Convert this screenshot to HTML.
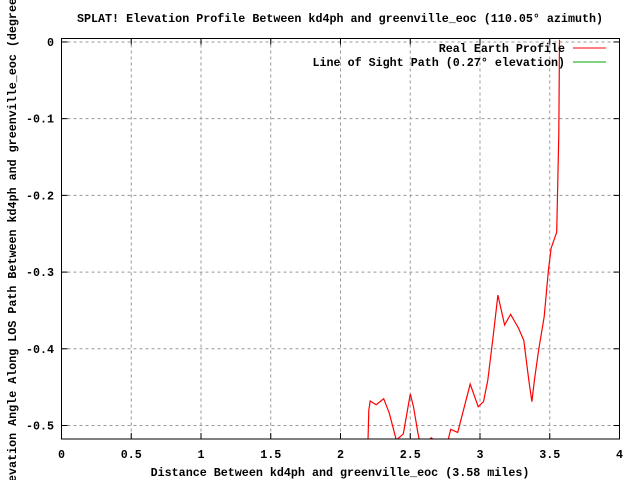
<!DOCTYPE html>
<html><head><meta charset="utf-8"><style>
body{margin:0;background:#fff}
svg{display:block;font-family:"Liberation Mono",monospace;font-weight:bold;font-size:11.7px}
</style></head><body>
<svg width="640" height="480" xmlns="http://www.w3.org/2000/svg">
<rect width="640" height="480" fill="#fff"/>
<text x="340" y="22" text-anchor="middle">SPLAT! Elevation Profile Between kd4ph and greenville_eoc (110.05° azimuth)</text>
<text x="340" y="476" text-anchor="middle">Distance Between kd4ph and greenville_eoc (3.58 miles)</text>
<text transform="translate(16,240) rotate(-90)" text-anchor="middle">Elevation Angle Along LOS Path Between kd4ph and greenville_eoc (degrees)</text>
<g id="grid"></g><g id="ticks"></g>
<g id="series"></g>
<rect x="61.5" y="38.5" width="558" height="400.5" fill="none" stroke="#000"/>
<g>
<text x="565" y="52" text-anchor="end">Real Earth Profile</text>
<line x1="573" y1="48" x2="606" y2="48" stroke="#f00"/>
<text x="565" y="66" text-anchor="end">Line of Sight Path (0.27° elevation)</text>
<line x1="573" y1="62" x2="606" y2="62" stroke="#0a0"/>
</g>
</svg>
<script>
const xTicks=[0,0.5,1,1.5,2,2.5,3,3.5,4];
const xTickLabels=["0","0.5","1","1.5","2","2.5","3","3.5","4"];
const yTicks=[0,-0.1,-0.2,-0.3,-0.4,-0.5];
const yTickLabels=["0","-0.1","-0.2","-0.3","-0.4","-0.5"];
const profileX=[2.196,2.203,2.213,2.256,2.31,2.35,2.40,2.45,2.50,2.523,2.554,2.578,2.65,2.757,2.79,2.84,2.93,2.987,3.025,3.056,3.097,3.128,3.176,3.219,3.276,3.314,3.35,3.372,3.39,3.42,3.46,3.49,3.51,3.55,3.565,3.57];
const profileY=[-0.53,-0.48,-0.468,-0.473,-0.465,-0.484,-0.519,-0.511,-0.459,-0.4755,-0.509,-0.53,-0.516,-0.53,-0.505,-0.509,-0.446,-0.4755,-0.469,-0.441,-0.38,-0.33,-0.369,-0.355,-0.373,-0.389,-0.441,-0.469,-0.441,-0.402,-0.358,-0.298,-0.269,-0.248,-0.12,0.003];
const X0=61.5,X1=619.5,Y0=439,Y1=38.5,YMIN=-0.5176,YMAX=0.0045;
const sx=v=>X0+(v/4)*(X1-X0);
const sy=v=>Y0-(v-YMIN)/(YMAX-YMIN)*(Y0-Y1);
const NS="http://www.w3.org/2000/svg";
const grid=document.getElementById('grid'),ticks=document.getElementById('ticks'),series=document.getElementById('series');
function mk(t,a,p){const e=document.createElementNS(NS,t);for(const k in a)e.setAttribute(k,a[k]);p.appendChild(e);return e;}
xTicks.forEach((v,i)=>{const x=sx(v);
 if(i>0&&i<xTicks.length-1){const g=mk('line',{x1:x,y1:Y1,x2:x,y2:Y0,stroke:'#999','stroke-dasharray':'3,3'},grid);
 
 }
 const t=mk('line',{x1:x,y1:Y0,x2:x,y2:Y0-6,stroke:'#000'},ticks);
 
 
 const t2=mk('line',{x1:x,y1:Y1,x2:x,y2:Y1+6,stroke:'#000'},ticks);
 
 
 const l=mk('text',{x:x,y:458,'text-anchor':'middle'},ticks);l.textContent=xTickLabels[i];
 
 
});
yTicks.forEach((v,i)=>{const y=sy(v);
 const g=mk('line',{x1:X0,y1:y,x2:X1,y2:y,stroke:'#999','stroke-dasharray':'3,3'},grid);
 
 
 const t=mk('line',{x1:X0,y1:y,x2:X0+6,y2:y,stroke:'#000'},ticks);
 
 
 const t2=mk('line',{x1:X1,y1:y,x2:X1-6,y2:y,stroke:'#000'},ticks);
 
 
 const l=mk('text',{x:54,y:y+4,'text-anchor':'end'},ticks);l.textContent=yTickLabels[i];
 
 
});
const cp=mk('clipPath',{id:'clip'},series);mk('rect',{x:X0,y:Y1,width:X1-X0,height:Y0-Y1},cp);
const pts=profileX.map((v,i)=>sx(v).toFixed(1)+','+sy(profileY[i]).toFixed(1)).join(' ');
const pl=mk('polyline',{points:pts,fill:'none',stroke:'#f00','stroke-width':1.2,'clip-path':'url(#clip)'},series);


</script>
</body></html>
